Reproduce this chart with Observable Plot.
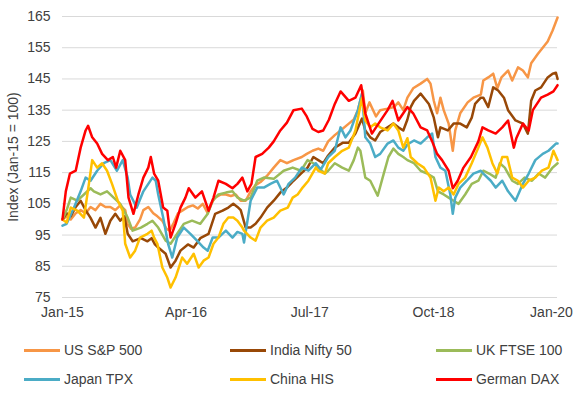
<!DOCTYPE html>
<html>
<head>
<meta charset="utf-8">
<script src="https://cdn.jsdelivr.net/npm/d3@7"></script>
<script src="https://cdn.jsdelivr.net/npm/@observablehq/plot@0.6"></script>
<style>
  html, body { margin: 0; padding: 0; background: #fff; }
  #chart { width: 574px; height: 406px; position: relative; font-family: "Liberation Sans", Arial, sans-serif; }
  .leg { position: absolute; display: flex; align-items: center; font-size: 14px; color: #404040; white-space: nowrap; }
  .leg .sw { width: 36px; height: 3px; margin-right: 4px; }
</style>
</head>
<body>
<div id="chart"></div>
<script>
// Values: [months since Jan-15, index value]
const usSP500 = [[0,100],[0.5,101],[1,100],[1.6,102],[2.2,103],[2.8,102],[3.4,104],[4,103],[4.6,105],[5.2,104],[5.8,104],[6.4,103],[7,104.5],[7.6,103],[7.9,98.6],[8.3,97],[8.8,97.4],[9.4,100],[9.8,103],[10.4,104],[11,102],[11.5,101],[12.1,99.6],[12.6,97],[13,96.4],[13.5,99],[14,102],[14.6,103],[15.2,104],[15.8,104.5],[16.4,103.5],[17,105],[17.6,102],[18,105],[18.5,107],[19.2,108],[19.8,108],[20.4,107.5],[21,108],[21.6,106],[22.2,106],[22.8,109],[23.4,111],[24,112],[24.8,114],[25.6,116.6],[26.4,119],[27.2,118],[28,119],[29,120],[29.6,121],[30.3,122],[31,122.7],[31.6,122],[32.2,125],[33,127],[33.7,128.5],[34.7,130.7],[35.3,132],[35.8,135],[36.4,141.3],[36.7,134],[37.2,137.5],[38,133],[38.5,135],[39.4,135.5],[40.2,136],[40.7,137.5],[41.3,135],[41.8,139],[42.5,142],[43.4,143.5],[44.2,145],[44.6,143.5],[45,138],[45.4,134],[45.8,139],[46.2,135],[46.8,130.7],[47.3,122],[47.6,128.5],[48.2,134],[49.1,137.5],[49.8,139],[50.7,140],[51,144.5],[51.6,145.5],[52.2,146.7],[52.7,142],[53.2,145.5],[54,147.7],[54.5,144.5],[55.2,148.7],[55.8,147.7],[56.4,145.5],[56.8,150],[57.6,153],[58.2,155],[58.8,157],[59.4,160.5],[60,164.7]];
const indiaNifty50 = [[0,100],[0.5,102],[1,101],[1.6,104],[2.2,106],[2.8,103],[3.4,100.5],[4,97.4],[4.6,100.5],[5.2,95.4],[5.8,99.6],[6.4,101.8],[7,99.6],[7.5,101],[7.9,95.4],[8.5,93],[9.5,94],[10.3,93],[10.8,94],[11.2,92],[11.6,91],[12.5,89],[13.1,84.6],[13.7,86.8],[14.3,90],[15.2,92],[15.9,91],[16.7,94],[17.7,95.4],[18.5,101.8],[19.4,102.8],[20.1,103.8],[20.7,105],[21.2,104],[21.6,103],[22.2,97.4],[22.8,97.4],[23.4,98.6],[24,100.6],[24.8,103.8],[25.6,106],[26.4,108.6],[27.2,110.2],[28,112.4],[28.9,114.7],[29.7,116.6],[30.4,120],[31,119],[31.6,118],[32.2,120.5],[33,123],[34,124.6],[34.7,124.6],[35.5,127.5],[36.3,132.3],[36.7,128.5],[37.3,126.3],[37.9,125.3],[38.5,128],[39.4,129.5],[40.1,130.7],[40.7,129.5],[41.3,128.5],[41.8,132],[42.2,136],[42.6,138],[43.4,140.3],[43.8,139],[44.4,137],[45,132.6],[45.5,126.3],[45.8,129.5],[46.7,128.5],[47.4,130.7],[48.2,130.7],[49,129.5],[49.6,132.6],[50,137],[50.7,139],[51,139],[51.6,136],[52.2,142.3],[52.8,141.3],[53.5,139],[54,135],[54.9,131.7],[55.8,130.7],[56.4,127.5],[56.8,138],[57.3,141.3],[58,142.3],[58.8,145.5],[59.4,146.7],[59.8,147],[60,145]];
const ukFTSE100 = [[0,100],[0.5,103],[1,107],[1.8,106],[2.6,108],[3.4,110],[3.8,109],[4.6,108],[5.4,109],[6.2,107],[7,105],[7.9,100.6],[8.5,96.4],[9.5,97.4],[10.3,98.6],[10.9,99.6],[11.6,97.4],[12.5,93.2],[13.1,92.2],[13.9,95.4],[14.7,98.6],[15.7,99.6],[16.7,98.6],[17.6,101.8],[18.2,106],[18.9,108],[19.8,108.6],[20.6,109],[21.2,107],[22,106],[22.8,107],[23.6,112.4],[24.4,113.4],[25.6,113],[26.8,115.6],[27.9,116.6],[28.9,115.6],[29.7,119],[30.4,118],[31,116.6],[31.8,114.7],[32.2,115.6],[33,118],[33.9,116.6],[34.7,115.6],[35.3,119],[35.8,123],[36.1,122],[36.7,113.4],[37.3,112.4],[38.2,107.6],[38.8,113.4],[39.5,120],[40.1,122.7],[40.7,121],[41.3,120],[41.8,119],[42.6,118],[43.4,115.6],[44.2,114.7],[45,113.4],[45.5,109],[46.2,108],[46.8,107],[47.4,106],[48,105],[48.8,108],[49.6,111.4],[50.4,112.4],[51,115.6],[51.7,114.7],[52.5,113.4],[53,118],[53.6,116.6],[54.5,112.4],[55.2,111.4],[56,113.4],[56.9,112.4],[57.7,114.7],[58.5,113.4],[59.4,116.6],[60,118]];
const japanTPX = [[0,98],[0.5,98.6],[1.4,103.8],[2.2,109],[2.8,113.4],[3.4,112.4],[4.2,115.6],[5,118],[5.8,119],[6.6,115.6],[7.3,119],[7.9,113.4],[8.2,108],[9,103.8],[9.8,109],[10.4,111.4],[10.9,113.4],[11.3,112.4],[11.6,108],[12.2,100.6],[12.8,92.2],[13.3,87.8],[13.9,94.2],[14.7,97.4],[15.5,95.4],[16.3,93.2],[17.1,91],[17.6,90],[18.2,94.2],[18.9,94.2],[19.8,96.4],[20.6,94.2],[21.2,96],[21.8,95.4],[22,92.6],[22.8,106],[23.6,110.2],[24.4,110.2],[25.2,111.4],[26,112.4],[26.8,108],[27.4,111.4],[28.2,113.4],[29,116.6],[29.8,115.6],[30.7,118],[31.3,116],[32.2,120],[33,122],[33.7,129.5],[34.3,126.3],[34.9,128.5],[35.8,135],[36.3,140.3],[36.7,126.3],[37.3,124.3],[37.9,120],[38.5,121],[39.4,124.3],[40.1,125.3],[40.7,123],[41.3,122],[41.8,124],[42.6,125.3],[43.4,124.3],[44.2,126.3],[44.8,127.5],[45.2,120],[45.8,116.6],[46.4,115.6],[47,108],[47.3,101.8],[47.6,107],[48.2,110.2],[49,112.4],[49.8,114.7],[50.7,115.6],[51,114.7],[51.9,112.4],[52.5,110.2],[53.3,112.4],[54,109],[54.9,106],[55.8,111.4],[56.5,114.7],[57.3,119],[58.2,121],[58.9,122],[59.8,124.3],[60,124.3]];
const chinaHIS = [[0,100],[0.5,99],[1,103.8],[1.8,102.8],[2.6,100.6],[3.2,111.4],[3.6,119],[4.2,116.6],[4.8,118],[5.4,115.6],[6,111.4],[6.7,106],[7.3,102.8],[7.6,92.2],[8.2,87.8],[8.8,90],[9.4,94.2],[10.3,95.4],[10.8,96.4],[11.1,94.2],[11.5,92.2],[12.1,84.6],[12.7,81.4],[13.1,78.2],[13.7,81.4],[14.5,87.8],[15.1,85.8],[15.9,89],[16.5,84.6],[17.1,86.8],[17.7,87.8],[18.3,92.2],[18.9,94.2],[19.5,98.6],[20.1,100.6],[20.7,100.6],[21.2,99.6],[21.8,97.4],[22,96.4],[22.8,94.2],[23.4,93.2],[24,97.4],[24.8,99.6],[25.6,100.6],[26.4,102.8],[27.3,103.8],[27.9,107],[28.5,108],[29.1,110.2],[29.8,112.4],[30.7,116.6],[31,115.6],[31.8,114.7],[32.2,118],[33,120],[33.9,122],[34.7,123],[35.5,128.5],[36.3,139],[36.7,131.7],[37.3,129.5],[37.9,130.7],[38.5,129.5],[39.4,128.5],[40.1,130.7],[40.7,128.5],[41.3,123],[41.8,126],[42.2,120],[43,118],[43.8,116.6],[44.6,113.4],[45.2,106],[45.6,110.2],[46.2,109],[46.8,110.2],[47.4,108],[48,111.4],[48.8,113.4],[49.6,118],[50.4,123],[50.9,126.3],[51.5,123],[52.1,118],[52.7,114.7],[53.3,120],[53.9,120],[54.5,113.4],[55.2,112.4],[55.8,110.2],[56.5,112.4],[57.3,113.4],[58.1,115.6],[58.9,116.6],[59.5,122],[60,119]];
const germanDAX = [[0,100],[0.4,109],[0.9,114.7],[1.6,115.6],[2.2,123],[2.8,128.5],[3.1,130],[3.6,126.3],[4.2,124.3],[4.8,121],[5.5,119],[6.1,120],[6.5,116.6],[7,122],[7.6,119],[8,107],[8.6,101.8],[9.2,108],[9.8,113.4],[10.4,116.6],[10.7,120],[11.1,114.7],[11.6,112.4],[12.2,103.8],[12.7,102.8],[13.1,94.2],[13.7,98.6],[14.3,103.8],[14.9,107],[15.3,110],[16.1,107],[16.9,109],[17.7,102.8],[18.3,107],[18.9,112.4],[19.8,111.4],[20.6,110],[21.2,111.4],[21.8,113.4],[22.4,109],[22.9,111.4],[23.4,120],[24.2,121],[25,123],[25.6,125],[26.4,128.5],[27.2,131],[28,135],[29,135.5],[29.6,133],[30.3,129],[31,128],[31.6,128.5],[32.3,132],[33,137],[33.7,141],[34.7,138],[35.5,139],[36.2,143],[36.7,134],[37.5,127.5],[38.3,130.7],[39.4,135],[40,138],[40.7,131.7],[41.3,134],[41.8,136],[42.5,134],[43.4,129.5],[44.2,128.5],[44.8,125],[45.4,121],[46,119],[46.8,115.6],[47.3,110],[47.9,112.4],[48.6,116.6],[49.5,120],[50.4,125],[50.9,129.5],[51.6,128.5],[52.5,127.5],[53.3,129.5],[54,131.7],[54.7,123],[55,126],[55.8,130.7],[56.5,128.5],[57,135],[58,139],[58.8,140],[59.5,141],[60,143]];

const seriesNames = ["US S&P 500", "India Nifty 50", "UK FTSE 100", "Japan TPX", "China HIS", "German DAX"];
const seriesColors = ["#F79646", "#984807", "#9BBB59", "#4BACC6", "#FFC000", "#FF0000"];
const seriesValues = [usSP500, indiaNifty50, ukFTSE100, japanTPX, chinaHIS, germanDAX];
const yTicks = [75, 85, 95, 105, 115, 125, 135, 145, 155, 165];
const xTickLabels = ["Jan-15", "Apr-16", "Jul-17", "Oct-18", "Jan-20"];
const yTitle = "Index (Jan-15 = 100)";

const start = Date.UTC(2015, 0, 1);
const toDate = m => new Date(start + m * 30.4375 * 864e5);
const xTicks = [new Date(Date.UTC(2015,0,1)), new Date(Date.UTC(2016,3,1)), new Date(Date.UTC(2017,6,1)), new Date(Date.UTC(2018,9,1)), new Date(Date.UTC(2020,0,1))];

const rows = seriesValues.flatMap((arr, i) => arr.map(([m, v]) => ({name: seriesNames[i], date: toDate(m), value: v})));

const chart = Plot.plot({
  width: 574,
  height: 330,
  marginTop: 16,
  marginBottom: 33,
  marginLeft: 62,
  marginRight: 17,
  style: {fontFamily: '"Liberation Sans", Arial, sans-serif', fontSize: "14px", color: "#404040", background: "#fff", overflow: "visible"},
  x: {type: "utc", domain: [xTicks[0], xTicks[4]]},
  y: {domain: [75, 165]},
  color: {domain: seriesNames, range: seriesColors},
  marks: [
    Plot.gridY(yTicks, {stroke: "#d9d9d9", strokeOpacity: 1, strokeWidth: 1}),
    Plot.axisY(yTicks, {tickSize: 0, tickPadding: 12, label: yTitle, labelAnchor: "center", labelArrow: "none", labelOffset: 54}),
    Plot.axisX(xTicks.slice(0, 4), {tickSize: 0, tickPadding: 10, tickFormat: (d, i) => xTickLabels[i], label: null}),
    Plot.axisX(xTicks.slice(4), {tickSize: 0, tickPadding: 10, tickFormat: () => xTickLabels[4], label: null, dx: -6}),
    Plot.lineY(rows, {x: "date", y: "value", z: "name", stroke: "name", strokeWidth: 2.5, strokeLinejoin: "round"})
  ]
});

const root = document.getElementById("chart");
root.appendChild(chart);

const cols = [24, 230, 436];
const rowCenters = [350, 379];
seriesNames.forEach((name, i) => {
  const el = document.createElement("div");
  el.className = "leg";
  el.style.left = cols[i % 3] + "px";
  el.style.top = (rowCenters[Math.floor(i / 3)] - 9) + "px";
  el.style.height = "18px";
  const sw = document.createElement("span");
  sw.className = "sw";
  sw.style.background = seriesColors[i];
  const tx = document.createElement("span");
  tx.textContent = name;
  el.appendChild(sw);
  el.appendChild(tx);
  root.appendChild(el);
});
</script>
</body>
</html>
